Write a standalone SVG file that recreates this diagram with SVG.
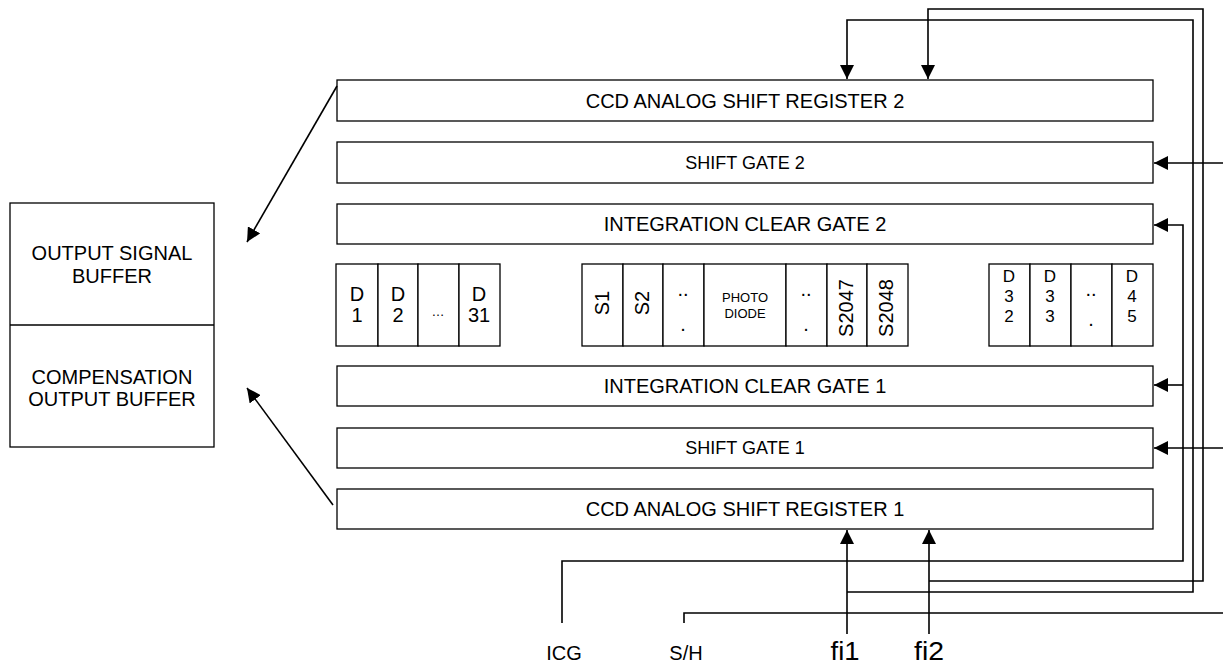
<svg xmlns="http://www.w3.org/2000/svg" width="1223" height="664" viewBox="0 0 1223 664">
<defs>
<marker id="ah" viewBox="0 0 10 10" refX="10" refY="5" markerWidth="14" markerHeight="14" markerUnits="userSpaceOnUse" orient="auto"><path d="M0,0 L10,5 L0,10 z" fill="#000"/></marker>
<style>
.b{fill:#fff;stroke:#000;stroke-width:1.3}
.w{fill:none;stroke:#000;stroke-width:1.6}
.t{font-family:"Liberation Sans",Arial,sans-serif;fill:#000;text-anchor:middle;font-size:20px}
.s{font-size:18px}
.x{font-size:13px}
.d{font-size:17px}
.f{font-size:26px}
</style>
</defs>
<rect width="1223" height="664" fill="#fff"/>
<g id="buffer">
<rect class="b" x="10" y="203" width="204" height="244"/>
<line class="b" x1="10" y1="325" x2="214" y2="325"/>
<text class="t" x="112" y="260">OUTPUT SIGNAL</text>
<text class="t" x="112" y="283">BUFFER</text>
<text class="t" x="112" y="384">COMPENSATION</text>
<text class="t" x="112" y="406">OUTPUT BUFFER</text>
</g>
<g id="asr2"><rect class="b" x="337" y="80" width="816" height="41"/><text class="t" x="745" y="108">CCD ANALOG SHIFT REGISTER 2</text></g>
<g id="sg2"><rect class="b" x="337" y="142" width="816" height="41"/><text class="t s" x="745" y="169">SHIFT GATE 2</text></g>
<g id="icg2"><rect class="b" x="337" y="204" width="816" height="40"/><text class="t" x="745" y="231">INTEGRATION CLEAR GATE 2</text></g>
<g id="icg1"><rect class="b" x="337" y="366" width="816" height="40"/><text class="t" x="745" y="393">INTEGRATION CLEAR GATE 1</text></g>
<g id="sg1"><rect class="b" x="337" y="428" width="816" height="40"/><text class="t s" x="745" y="454">SHIFT GATE 1</text></g>
<g id="asr1"><rect class="b" x="337" y="489" width="816" height="40"/><text class="t" x="745" y="516">CCD ANALOG SHIFT REGISTER 1</text></g>
<g id="dummy-left">
<rect class="b" x="336" y="264" width="42" height="82"/>
<rect class="b" x="378" y="264" width="40" height="82"/>
<rect class="b" x="418" y="264" width="41" height="82"/>
<rect class="b" x="459" y="264" width="41" height="82"/>
<text class="t" x="357" y="301">D<tspan x="357" y="322">1</tspan></text>
<text class="t" x="398" y="301">D<tspan x="398" y="322">2</tspan></text>
<text class="t x" x="438" y="316">…</text>
<text class="t" x="479" y="301">D<tspan x="479" y="322">31</tspan></text>
</g>
<g id="pixels">
<rect class="b" x="582" y="264" width="41" height="82"/>
<rect class="b" x="623" y="264" width="40" height="82"/>
<rect class="b" x="663" y="264" width="41" height="82"/>
<rect class="b" x="704" y="264" width="82" height="82"/>
<rect class="b" x="786" y="264" width="41" height="82"/>
<rect class="b" x="827" y="264" width="40" height="82"/>
<rect class="b" x="867" y="264" width="41" height="82"/>
<text class="t" transform="translate(609,303) rotate(-90)">S1</text>
<text class="t" transform="translate(649,303) rotate(-90)">S2</text>
<text class="t" x="683" y="296">..<tspan x="683" y="331">.</tspan></text>
<text class="t x" x="745" y="302">PHOTO<tspan x="745" y="318">DIODE</tspan></text>
<text class="t" x="806" y="296">..<tspan x="806" y="331">.</tspan></text>
<text class="t" transform="translate(853,308) rotate(-90)">S2047</text>
<text class="t" transform="translate(893,308) rotate(-90)">S2048</text>
</g>
<g id="dummy-right">
<rect class="b" x="989" y="264" width="41" height="82"/>
<rect class="b" x="1030" y="264" width="41" height="82"/>
<rect class="b" x="1071" y="264" width="41" height="82"/>
<rect class="b" x="1112" y="264" width="41" height="82"/>
<text class="t d" x="1009" y="282">D<tspan x="1009" y="302">3</tspan><tspan x="1009" y="322">2</tspan></text>
<text class="t d" x="1050" y="282">D<tspan x="1050" y="302">3</tspan><tspan x="1050" y="322">3</tspan></text>
<text class="t" x="1091" y="296">..<tspan x="1091" y="326">.</tspan></text>
<text class="t d" x="1132" y="282">D<tspan x="1132" y="302">4</tspan><tspan x="1132" y="322">5</tspan></text>
</g>
<g id="labels">
<text class="t" x="564" y="660">ICG</text>
<text class="t" x="686" y="660">S/H</text>
<text class="t f" x="845" y="660" textLength="29" lengthAdjust="spacingAndGlyphs">fi1</text>
<text class="t f" x="929" y="660" textLength="30" lengthAdjust="spacingAndGlyphs">fi2</text>
</g>
<g id="connectors">
<line class="w" x1="337" y1="86" x2="247" y2="242" marker-end="url(#ah)"/>
<line class="w" x1="333" y1="505" x2="247" y2="388" marker-end="url(#ah)"/>
<line class="w" x1="1223" y1="163" x2="1154" y2="163" marker-end="url(#ah)"/>
<line class="w" x1="1223" y1="448" x2="1154" y2="448" marker-end="url(#ah)"/>
<polyline class="w" points="562,623 562,561 1183,561 1183,225 1154,225" marker-end="url(#ah)"/>
<line class="w" x1="1183" y1="385" x2="1154" y2="385" marker-end="url(#ah)"/>
<polyline class="w" points="684,623 684,613 1223,613"/>
<line class="w" x1="847" y1="634" x2="847" y2="530" marker-end="url(#ah)"/>
<line class="w" x1="929" y1="634" x2="929" y2="530" marker-end="url(#ah)"/>
<polyline class="w" points="847,592 1193,592 1193,20 847,20 847,79" marker-end="url(#ah)"/>
<polyline class="w" points="929,581 1203,581 1203,9 928,9 928,79" marker-end="url(#ah)"/>
</g>
</svg>
